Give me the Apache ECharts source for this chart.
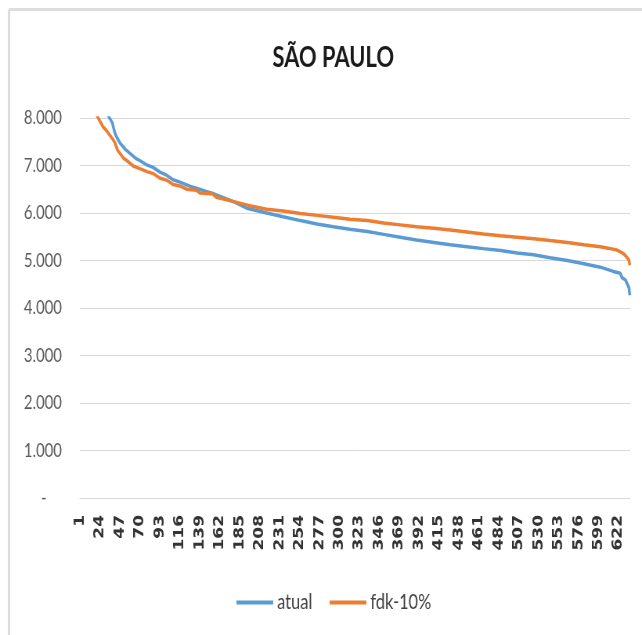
<!DOCTYPE html>
<html>
<head>
<meta charset="utf-8">
<script src="https://cdn.jsdelivr.net/npm/echarts@6/dist/echarts.min.js"></script>
<style>
html,body{margin:0;padding:0;background:#fff;overflow:hidden}
#wrap{width:642px;height:635px;overflow:hidden;position:relative}
#c{width:820px;height:635px;transform:scaleX(0.7829);transform-origin:0 0}
</style>
</head>
<body>
<div id="wrap"><div id="c"></div></div>
<script>
// ---- data ----
const title = 'SÃO PAULO';
const seriesNames = ['atual', 'fdk-10%'];
const categoryCount = 635;
const categories = [];
for (let i = 1; i <= categoryCount; i++) categories.push(String(i));

// rank (1-based position in the sorted curve) and value at that rank
const atualRank  = [33, 35, 38, 39, 41, 44, 47, 53, 58, 65, 70, 77, 85, 93, 101, 108, 116, 128, 135, 147, 154, 158, 178, 193, 216, 235, 255, 274, 293, 312, 332, 351, 370, 389, 409, 428, 447, 466, 486, 505, 524, 543, 563, 582, 601, 616, 624, 626, 630, 632, 634, 635];
const atualValue = [8060, 7990, 7900, 7820, 7680, 7560, 7470, 7340, 7260, 7150, 7100, 7020, 6960, 6860, 6790, 6700, 6650, 6560, 6520, 6450, 6410, 6380, 6240, 6100, 6000, 5920, 5840, 5770, 5710, 5660, 5610, 5550, 5490, 5430, 5380, 5330, 5290, 5250, 5210, 5160, 5120, 5060, 5000, 4930, 4860, 4770, 4730, 4640, 4590, 4510, 4430, 4270];

const fdkRank  = [20, 22, 27, 31, 35, 39, 41, 44, 47, 51, 55, 62, 66, 78, 85, 93, 101, 108, 116, 124, 135, 139, 154, 158, 178, 195, 216, 235, 255, 274, 293, 312, 332, 351, 370, 389, 409, 428, 447, 466, 486, 505, 524, 543, 563, 582, 601, 610, 620, 624, 628, 631, 634, 635];
const fdkValue = [8060, 7990, 7820, 7740, 7640, 7540, 7480, 7320, 7250, 7150, 7100, 6990, 6960, 6870, 6830, 6730, 6690, 6600, 6570, 6500, 6480, 6420, 6400, 6330, 6240, 6160, 6080, 6040, 5990, 5950, 5910, 5870, 5840, 5790, 5750, 5710, 5680, 5640, 5600, 5560, 5520, 5490, 5460, 5420, 5380, 5330, 5290, 5260, 5220, 5185, 5140, 5080, 5010, 4900];

const yTicks = { min: 0, max: 8000, interval: 1000 };
const colors = ['#5B9BD5', '#ED7D31'];

// ---- chart ----
const toPairs = (ranks, vals) => ranks.map((r, k) => [r - 1, vals[k]]);
const fmtY = v => v === 0 ? '-    ' : Math.floor(v / 1000) + '.' + String(v % 1000).padStart(3, '0');
const FONT = 'Lato, "Open Sans", sans-serif';

const chart = echarts.init(document.getElementById('c'), null, { renderer: 'canvas' });
chart.setOption({
  animation: false,
  backgroundColor: '#ffffff',
  color: colors,
  title: {
    text: title,
    left: 343,
    top: 39,
    textStyle: { fontFamily: FONT, fontWeight: 'bold', fontSize: 28, color: '#1a1a1a' }
  },
  graphic: [
    { type: 'line', shape: { x1: 11.5, y1: 9.5, x2: 830, y2: 9.5 },
      style: { stroke: '#DDDDDD', lineWidth: 3 }, silent: true },
    { type: 'line', shape: { x1: 11.5, y1: 9.5, x2: 11.5, y2: 640 },
      style: { stroke: '#DDDDDD', lineWidth: 3 }, silent: true }
  ],
  legend: {
    data: seriesNames,
    left: 297,
    top: 587,
    itemWidth: 47,
    itemHeight: 4,
    itemGap: 22,
    icon: 'rect',
    textStyle: { fontFamily: FONT, fontSize: 21, color: '#404040' }
  },
  grid: { left: 102, right: 15, top: 118, bottom: 137, containLabel: false },
  xAxis: {
    type: 'category',
    data: categories,
    boundaryGap: true,
    axisLine: { lineStyle: { color: '#D9D9D9', width: 1 } },
    axisTick: { show: false },
    axisLabel: {
      interval: 22,
      rotate: 90,
      margin: 17,
      fontFamily: '"DejaVu Sans", sans-serif',
      fontWeight: 'bold',
      fontSize: 17,
      color: '#333333'
    },
    splitLine: { show: false }
  },
  yAxis: {
    type: 'value',
    min: yTicks.min,
    max: yTicks.max,
    interval: yTicks.interval,
    axisLine: { show: false },
    axisTick: { show: false },
    axisLabel: { formatter: fmtY, margin: 23, fontFamily: FONT, fontSize: 19, color: '#595959' },
    splitLine: { lineStyle: { color: '#D9D9D9', width: 1 } }
  },
  series: [
    {
      name: seriesNames[0], type: 'line', data: toPairs(atualRank, atualValue),
      showSymbol: false, symbol: 'none', clip: true,
      lineStyle: { width: 3.5, color: colors[0] }, z: 2
    },
    {
      name: seriesNames[1], type: 'line', data: toPairs(fdkRank, fdkValue),
      showSymbol: false, symbol: 'none', clip: true,
      lineStyle: { width: 3.5, color: colors[1] }, z: 3
    }
  ]
});
</script>
</body>
</html>
